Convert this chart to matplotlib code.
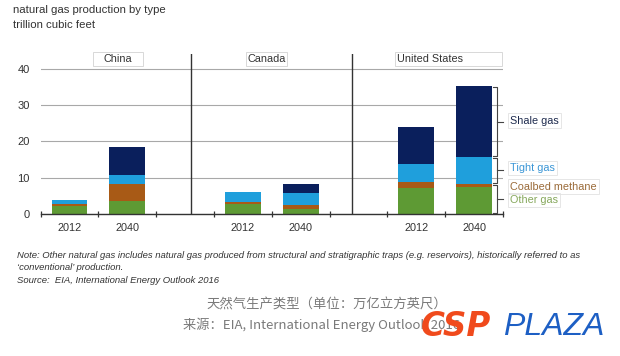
import matplotlib
matplotlib.use("Agg")
import matplotlib.pyplot as plt
from matplotlib.patches import Rectangle
import numpy as np

# ---- data ----
regions = ["China", "Canada", "United States"]
years = ["2012", "2040"]
# order: China 2012, China 2040, Canada 2012, Canada 2040, US 2012, US 2040
other_gas = [2.4, 3.7, 2.9, 1.4, 7.2, 7.4]
coalbed = [0.3, 4.7, 0.4, 1.1, 1.7, 1.0]
tight_gas = [1.2, 2.3, 2.7, 3.4, 4.8, 7.3]
shale_gas = [0.0, 7.9, 0.1, 2.5, 10.2, 19.5]
series_names = ["Other gas", "Coalbed methane", "Tight gas", "Shale gas"]
yticks = [0, 10, 20, 30, 40]

colors = {"Other gas": "#5e9a34", "Coalbed methane": "#a85a16",
          "Tight gas": "#1f9fdc", "Shale gas": "#0a1f5c"}
label_colors = {"Other gas": "#86a85c", "Coalbed methane": "#9a6a38",
                "Tight gas": "#3b96d6", "Shale gas": "#1e2b4e"}

base = "Liberation Sans"
plt.rcParams['font.family'] = [base, 'DejaVu Sans']

fig = plt.figure(figsize=(6.2, 3.56), dpi=100)
ax = fig.add_axes([0.0656, 0.398, 0.7456, 0.451])

# slot positions: two bars per region + one gap slot between regions
xpos = [0, 1, 3, 4, 6, 7]
width = 0.62
series = [other_gas, coalbed, tight_gas, shale_gas]
bottom = np.zeros(len(xpos))
for name, vals in zip(series_names, series):
    ax.bar(xpos, vals, width=width, bottom=bottom, color=colors[name],
           edgecolor="none", zorder=3)
    bottom = bottom + np.array(vals)

ax.set_xlim(-0.5, 7.5)
ax.set_ylim(0, 44.1)
ax.set_yticks(yticks)
ax.set_yticklabels([str(v) for v in yticks])
ax.grid(axis="y", color="#a8a8a8", linewidth=0.8, zorder=0)
for s in ["left", "right", "top"]:
    ax.spines[s].set_visible(False)
ax.spines["bottom"].set_color("#333333")
ax.spines["bottom"].set_linewidth(1.0)
ax.spines["bottom"].set_zorder(4)

ax.tick_params(axis="y", length=0, pad=8, labelsize=8, labelcolor="#333333")
ax.set_xticks(xpos)
ax.set_xticklabels(years * 3)
ax.tick_params(axis="x", which="major", length=0, pad=6, labelsize=7.8,
               labelcolor="#333333")
ax.set_xticks(np.arange(-0.5, 8.0, 1.0), minor=True)
ax.tick_params(axis="x", which="minor", length=4, direction="inout",
               color="#333333", width=0.9)

# region separators
for xs in [2.1, 4.88]:
    ax.axvline(xs, color="#333333", linewidth=1.0, zorder=4)

# region labels in boxes
boxes = [(0.40, 1.265), (3.06, 3.77), (5.64, 7.49)]
label_x = [0.83, 3.42, 5.67]
label_ha = ["center", "center", "left"]
for name, (b0, b1), lx, ha in zip(regions, boxes, label_x, label_ha):
    ax.add_patch(Rectangle((b0, 40.6), b1 - b0, 3.9, facecolor="white",
                           edgecolor="#d8d8d8", linewidth=0.7,
                           clip_on=False, zorder=5))
    ax.text(lx, 42.6, name, ha=ha, va="center", fontsize=7.8,
            color="#333333", zorder=6, clip_on=False)

# brackets for the US 2040 bar
us = [other_gas[-1], coalbed[-1], tight_gas[-1], shale_gas[-1]]
cum = np.cumsum([0] + us)
groups = [(cum[0], cum[2]), (cum[2], cum[3]), (cum[3], cum[4])]
bx, hook, tick = 7.39, 7.33, 7.5
for lo, hi in groups:
    lo2, hi2 = lo + 0.25, hi - 0.25
    ax.plot([hook, bx, bx, hook], [lo2, lo2, hi2, hi2], color="#444444",
            linewidth=0.8, clip_on=False, zorder=5)
    mid = (lo + hi) / 2
    ax.plot([bx, tick], [mid, mid], color="#444444", linewidth=0.8,
            clip_on=False, zorder=5)

lab_x = 7.62
label_y = {"Shale gas": (cum[3] + cum[4]) / 2 + 0.3,
           "Tight gas": (cum[2] + cum[3]) / 2 + 0.6,
           "Coalbed methane": 7.6,
           "Other gas": 3.9}
for name in ["Shale gas", "Tight gas", "Coalbed methane", "Other gas"]:
    ax.text(lab_x, label_y[name], name, ha="left", va="center", fontsize=7.8,
            color=label_colors[name], clip_on=False,
            bbox=dict(boxstyle="square,pad=0.2", facecolor="none",
                      edgecolor="#e2e2e2", linewidth=0.6))

# titles
fig.text(13 / 620, 1 - 10 / 356, "natural gas production by type",
         fontsize=8.2, color="#333333", va="center", ha="left")
fig.text(13 / 620, 1 - 25 / 356, "trillion cubic feet",
         fontsize=8.2, color="#333333", va="center", ha="left")

# notes
note_kw = dict(fontsize=6.8, color="#333333", style="italic", ha="left",
               va="center")
fig.text(17 / 620, 1 - 255.5 / 356,
         "Note: Other natural gas includes natural gas produced from structural "
         "and stratigraphic traps (e.g. reservoirs), historically referred to as",
         **note_kw)
fig.text(17 / 620, 1 - 267 / 356, "\u2018conventional\u2019 production.",
         **note_kw)
fig.text(17 / 620, 1 - 280.5 / 356,
         "Source:  EIA, International Energy Outlook 2016", **note_kw)

# Chinese captions
cjk = ["Noto Sans CJK SC", "DejaVu Sans"]
fig.text(327 / 620, 1 - 305 / 356, "天然气生产类型（单位：万亿立方英尺）",
         family=cjk, fontsize=9.6, color="#7a7a7a", ha="center",
         va="center")
fig.text(183 / 620, 1 - 325 / 356,
         "来源：EIA, International Energy Outlook 2016",
         family=cjk, fontsize=9.5, color="#7a7a7a", ha="left",
         va="center")

# logo (drawn over the caption, as in the reference)
fig.text(421 / 620, 1 - 327 / 356, "CSP", fontsize=23.5, fontweight="bold",
         style="italic", color="#f04a1c", ha="left", va="center",
         family="DejaVu Sans")
fig.text(503 / 620, 1 - 327 / 356, "PLAZA", fontsize=23,
         style="italic", color="#1d5fc4", ha="left", va="center",
         family="Liberation Sans")

fig.savefig("out.png", dpi=100)
